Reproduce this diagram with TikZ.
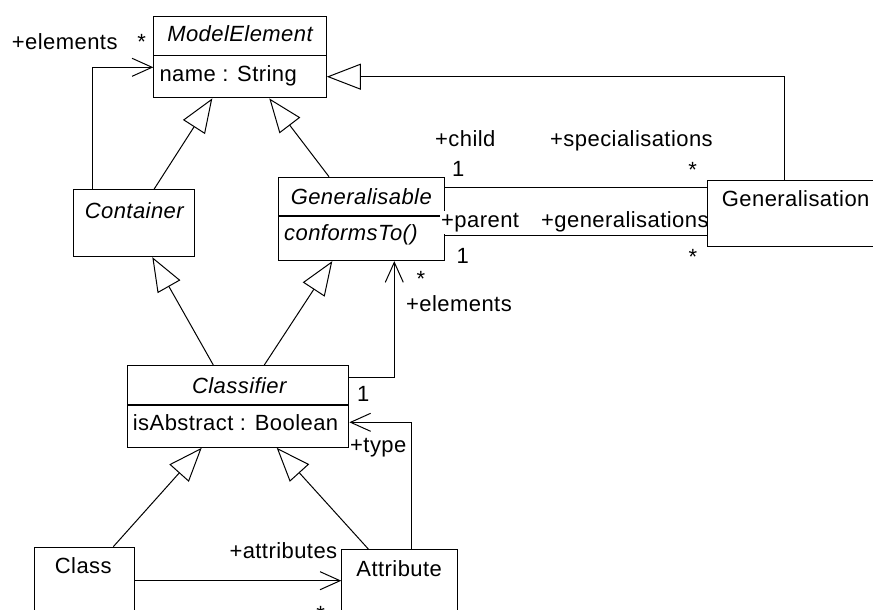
\documentclass[tikz,border=0pt]{standalone}
\usepackage{fontspec}
\setmainfont[LetterSpace=2]{Liberation Sans}
\usetikzlibrary{arrows.meta,calc}
\begin{document}
\begin{tikzpicture}[x=1pt,y=-1pt,
  box/.style={draw, line width=1.1pt, fill=white, inner sep=0pt, anchor=north west},
  lbl/.style={font=\fontsize{22}{26}\selectfont, inner sep=0pt},
  ital/.style={lbl, font=\fontsize{22}{26}\selectfont\itshape},
  conn/.style={line width=1pt},
  tri/.style={conn, -{Triangle[length=34pt,width=26pt,fill=white,line width=1pt]}},
  varrow/.style={conn, -{Straight Barb[length=20pt,width=18pt,line width=1pt]}},
]
\useasboundingbox (0,0) rectangle (873,610);
\clip (0,0) rectangle (873,610);

% boxes
\node[box, minimum width=172.4pt, minimum height=81.6pt] (me) at (153.3,15.7) {};
\node[box, minimum width=121pt, minimum height=66.7pt] (cont) at (72.7,189.3) {};
\node[box, minimum width=165.2pt, minimum height=83.3pt] (gen) at (278.3,176.7) {};
\node[box, minimum width=200pt, minimum height=66pt] (gsn) at (707.3,180) {};
\node[box, minimum width=221pt, minimum height=81.7pt] (cls) at (127.3,365) {};
\node[box, minimum width=100pt, minimum height=100pt] (klass) at (34.3,546.7) {};
\node[box, minimum width=116pt, minimum height=100pt] (attr) at (341.3,549) {};

% dividers
\draw[line width=1.1pt] ($(me.north west)+(0,40)$) -- ($(me.north east)+(0,40)$);
\draw[line width=1.1pt] ($(gen.north west)+(0,39.3)$) -- ($(gen.north east)+(0,39.3)$);
\draw[line width=1.1pt] ($(cls.north west)+(0,40)$) -- ($(cls.north east)+(0,40)$);

% box texts
\node[ital, anchor=base] (meT) at (240,41.7) {ModelElement};
\node[lbl, anchor=base west] (meA) at (159.3,81.5) {name : String};
\node[ital, anchor=base] (contT) at (134.3,218.3) {Container};
\node[ital, anchor=base] (genT) at (361.3,204) {Generalisable};
\node[ital, anchor=base west] (genO) at (284,240) {conformsTo()};
\node[lbl, anchor=base west] (gsnT) at (721.7,206.7) {Generalisation};
\node[ital, anchor=base] (clsT) at (239.3,393.3) {Classifier};
\node[lbl, anchor=base west] (clsA) at (132.7,430) {isAbstract : Boolean};
\node[lbl, anchor=base] (klassT) at (83.3,573.3) {Class};
\node[lbl, anchor=base] (attrT) at (399.2,576) {Attribute};

% connectors
\draw[varrow] ($(cont.north west)+(19.6,0)$) |- ($(me.north west)+(0,51.6)$);
\draw[tri] ($(gsn.north west)+(77,0)$) |- ($(me.north east)+(0,61)$);
\draw[tri] ($(cont.north west)+(81.3,0)$) -- ($(me.south west)+(59,0)$);
\draw[tri] ($(gen.north west)+(50.7,0)$) -- ($(me.south west)+(116,0)$);
\draw[conn] ($(gen.north east)+(0,10.6)$) -- ($(gsn.north west)+(0,7.3)$);
\draw[conn] ($(gen.north east)+(0,58.6)$) -- ($(gsn.north west)+(0,55.3)$);
\draw[tri] ($(cls.north west)+(86,0)$) -- ($(cont.south west)+(79.6,0)$);
\draw[tri] ($(cls.north west)+(137,0)$) -- ($(gen.south west)+(54,0)$);
\draw[varrow] ($(cls.north east)+(0,12.7)$) -| ($(gen.south west)+(116,0)$);
\draw[varrow] ($(attr.north west)+(70.4,0)$) |- ($(cls.north east)+(0,57.3)$);
\draw[tri] ($(klass.north west)+(79,0)$) -- ($(cls.south west)+(74.4,0)$);
\draw[tri] ($(attr.north west)+(27,0)$) -- ($(cls.south west)+(149.4,0)$);
\draw[varrow] ($(klass.north east)+(0,34)$) -- ($(attr.north west)+(0,31.7)$);

% role and multiplicity labels
\node[lbl, anchor=base west] (l1) at (11.7,50) {+elements};
\node[lbl, anchor=base] (l2) at (141.7,50) {*};
\node[lbl, anchor=base west] (l3) at (435,146) {+child};
\node[lbl, anchor=base west] (l4) at (550,146) {+specialisations};
\node[lbl, anchor=base] (l5) at (458.3,176.7) {1};
\node[lbl, anchor=base] (l6) at (692.7,177.5) {*};
\node[lbl, anchor=base west, fill=white, inner ysep=2pt, inner xsep=1pt] (l7) at (440,227.3) {+parent};
\node[lbl, anchor=base west] (l8) at (541,227.3) {+generalisations};
\node[lbl, anchor=base] (l9) at (462.7,263.3) {1};
\node[lbl, anchor=base] (l10) at (693,264) {*};
\node[lbl, anchor=base] (l11) at (421,286.5) {*};
\node[lbl, anchor=base west] (l12) at (406,311.7) {+elements};
\node[lbl, anchor=base] (l13) at (363.3,401.7) {1};
\node[lbl, anchor=base west] (l14) at (350,452.3) {+type};
\node[lbl, anchor=base west] (l15) at (229.3,558.3) {+attributes};
\node[lbl, anchor=base] (l16) at (320.7,621) {*};
\end{tikzpicture}
\end{document}
